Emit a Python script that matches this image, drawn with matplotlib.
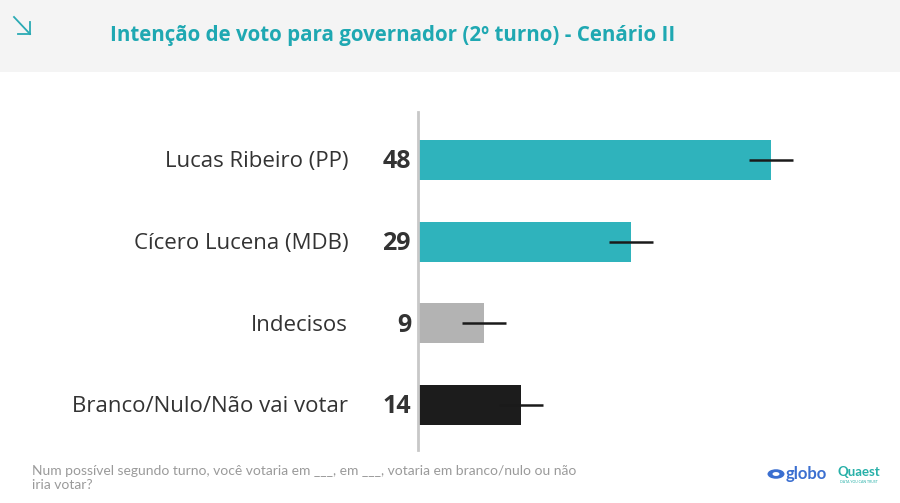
import numpy as np
import matplotlib.pyplot as plt
from matplotlib.patches import Rectangle, Circle
from matplotlib.lines import Line2D

categories = ['Lucas Ribeiro (PP)', 'Cícero Lucena (MDB)', 'Indecisos', 'Branco/Nulo/Não vai votar']
values = [48, 29, 9, 14]
margin = [3, 3, 3, 3]
colors = ['#2fb3bc', '#2fb3bc', '#b3b3b3', '#1c1c1c']

title = 'Intenção de voto para governador (2º turno) - Cenário II'
note = 'Num possível segundo turno, você votaria em ___, em ___, votaria em branco/nulo ou não\niria votar?'

W, H = 900, 503
fig = plt.figure(figsize=(W / 100, H / 100), dpi=100)
fig.patch.set_facecolor('white')

def fx(px):
    return px / W

def fy(py):
    return 1 - py / H

# header band
fig.patches.append(Rectangle((0, fy(72)), 1, 72 / H, transform=fig.transFigure,
                             facecolor='#f4f4f4', edgecolor='none', zorder=0))
fig.text(fx(110), fy(36), title, color='#1fa8b2', fontsize=14.8, fontweight='bold',
         family='Open Sans', va='center', ha='left')

# arrow icon
teal = '#2aaab4'
for (x0, y0, x1, y1) in [(14, 17, 30, 34), (30, 22, 30, 34), (18, 34, 30, 34)]:
    fig.lines.append(Line2D([fx(x0), fx(x1)], [fy(y0), fy(y1)], transform=fig.transFigure,
                            color=teal, lw=1.3))

# chart
ax = fig.add_axes([fx(418), fy(450), 441 / W, 338 / H])
y = np.arange(len(categories))
ax.barh(y, values, height=0.49, color=colors, zorder=2)
ax.errorbar(values, y, xerr=margin, fmt='none', ecolor='#1a1a1a', elinewidth=1.8,
            capsize=0, zorder=3)
ax.set_xlim(0, 60)
ax.set_ylim(3.55, -0.59)
for s in ['top', 'right', 'bottom']:
    ax.spines[s].set_visible(False)
ax.spines['left'].set_color('#c8c8c8')
ax.spines['left'].set_linewidth(2)
ax.set_xticks([])
ax.set_yticks([])

for yi, cat, v in zip(y, categories, values):
    ax.text(-9.5, yi + 0.02, cat, ha='right', va='center', fontsize=16, color='#333333',
            family='Open Sans', clip_on=False)
    ax.text(-0.95, yi + 0.02, str(v), ha='right', va='center', fontsize=18, fontweight='bold',
            color='#333333', family='Open Sans', clip_on=False)

# footer
fig.text(fx(32), fy(478), note, color='#9a9a9a', fontsize=10, family='Lato',
         va='center', ha='left', linespacing=1.15)

fig.patches.append(Circle((fx(776), fy(474)), 8.5 / W, transform=fig.transFigure,
                          facecolor='#3b6fd0', edgecolor='none'))
fig.patches.append(Circle((fx(776), fy(474)), 3.5 / W, transform=fig.transFigure,
                          facecolor='white', edgecolor='none'))
fig.text(fx(786), fy(474), 'globo', color='#3b6fd0', fontsize=12, fontweight='bold',
         family='Lato', va='center', ha='left')
fig.text(fx(859), fy(472), 'Quaest', color='#27b0a8', fontsize=9.5, fontweight='bold',
         family='Lato', va='center', ha='center')
fig.text(fx(859), fy(482), 'DATA YOU CAN TRUST', color='#27b0a8', fontsize=2.5,
         family='Lato', va='center', ha='center')

fig.savefig('out.png', dpi=100)
